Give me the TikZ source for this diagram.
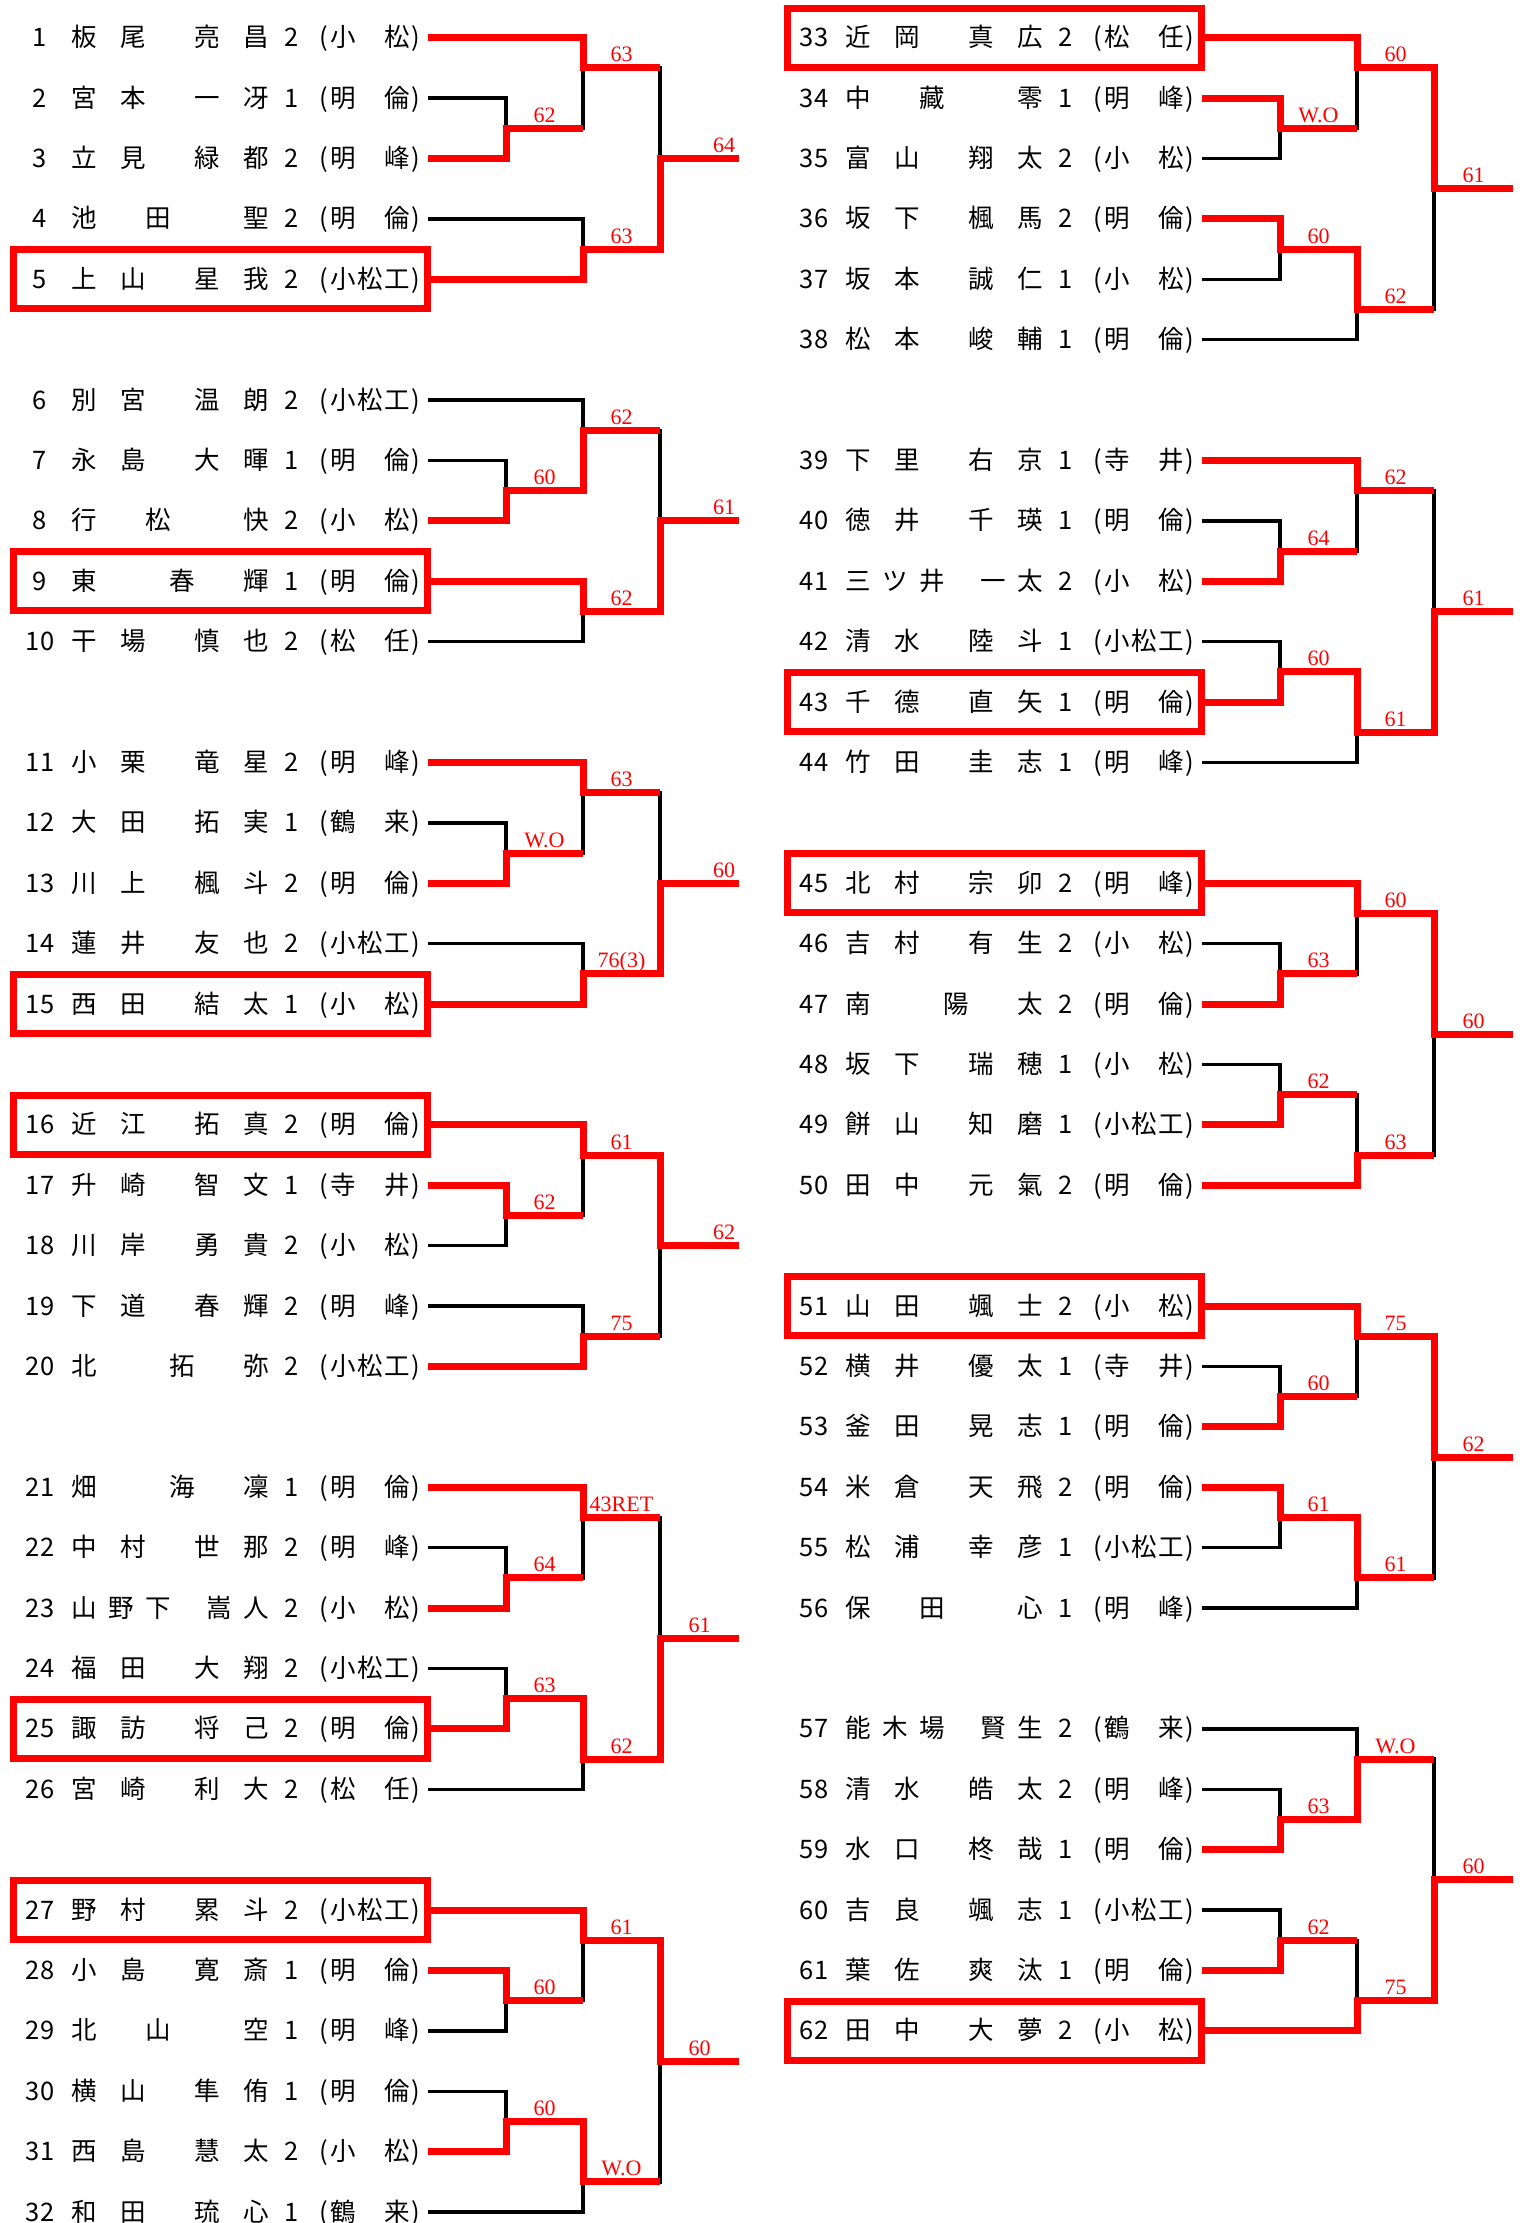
\documentclass[tikz,border=0pt]{standalone}
\usepackage{fontspec}
\newfontfamily\jp{Noto Sans CJK JP}
\newfontfamily\lf{Liberation Serif}
\tikzset{
 blk/.style={line width=3.5pt, black, line join=miter},
 win/.style={line width=7pt, red, line join=miter},
 bx/.style={line width=7pt, red, line join=miter},
 txt/.style={anchor=base, inner sep=0pt, font={\jp\fontsize{25.5}{25.5}\selectfont}},
 lbl/.style={anchor=base, inner sep=0pt, text=red, font={\lf\fontsize{22}{22}\selectfont}},
}
% id, xoff, slot, number, name list, grade, school1, school2, school3
\newcommand\prow[9]{%
 \pgfmathsetmacro\ry{37.7+#3*60.4}%
 \pgfmathsetmacro\rb{\ry+9}%
 \node[txt] (n#1) at ({#2+40},\rb) {#4};
 \foreach \pp/\cc [count=\kk] in {#5} {\node[txt] (n#1c\kk) at ({#2+84+\pp*24.6},\rb) {\cc};}
 \node[txt] (g#1) at ({#2+292},\rb) {#6};
 \node[txt] (lp#1) at ({#2+323.7},\rb) {(};
 \node[txt] (sa#1) at ({#2+343.5},\rb) {#7};
 \node[txt] (sb#1) at ({#2+370},\rb) {#8};
 \node[txt] (sc#1) at ({#2+397},\rb) {#9};
 \node[txt] (rp#1) at ({#2+415.5},\rb) {)};
 \coordinate (p#1) at ({#2+428},\ry);
}
\newcommand\pbox[2]{\draw[bx] ({#1+13},{37.7+#2*60.4-29.5}) rectangle ({#1+427},{37.7+#2*60.4+29.5});}
% name, column x, half-slot, winner, loser, next column x, label, label x
\newcommand\mcoord[8]{\coordinate (#1) at (#2,{37.7+#3*30.2});}
\newcommand\mblack[8]{\draw[blk] (#5) -| (#1);}
\newcommand\mred[8]{\draw[win] (#4) -| (#1) -- (#6,{37.7+#3*30.2});
 \node[lbl] (l#1) at (#8,{37.7+#3*30.2-6}) {#7};}
\newcommand\allmatches{%
\mt{A1}{506}{3}{p3}{p2}{583}{62}{544.5}
\mt{A2}{583}{1}{p1}{A1}{660}{63}{621.5}
\mt{A3}{583}{7}{p5}{p4}{660}{63}{621.5}
\mt{A4}{660}{4}{A3}{A2}{739}{64}{724}
\mt{B1}{506}{15}{p8}{p7}{583}{60}{544.5}
\mt{B2}{583}{13}{B1}{p6}{660}{62}{621.5}
\mt{B3}{583}{19}{p9}{p10}{660}{62}{621.5}
\mt{B4}{660}{16}{B3}{B2}{739}{61}{724}
\mt{C1}{506}{27}{p13}{p12}{583}{W.O}{544.5}
\mt{C2}{583}{25}{p11}{C1}{660}{63}{621.5}
\mt{C3}{583}{31}{p15}{p14}{660}{76(3)}{621.5}
\mt{C4}{660}{28}{C3}{C2}{739}{60}{724}
\mt{D1}{506}{39}{p17}{p18}{583}{62}{544.5}
\mt{D2}{583}{37}{p16}{D1}{660}{61}{621.5}
\mt{D3}{583}{43}{p20}{p19}{660}{75}{621.5}
\mt{D4}{660}{40}{D2}{D3}{739}{62}{724}
\mt{E1}{506}{51}{p23}{p22}{583}{64}{544.5}
\mt{E2}{583}{49}{p21}{E1}{660}{43RET}{621.5}
\mt{E3}{506}{55}{p25}{p24}{583}{63}{544.5}
\mt{E4}{583}{57}{E3}{p26}{660}{62}{621.5}
\mt{E5}{660}{53}{E4}{E2}{739}{61}{699.5}
\mt{F1}{506}{65}{p28}{p29}{583}{60}{544.5}
\mt{F2}{583}{63}{p27}{F1}{660}{61}{621.5}
\mt{F3}{506}{69}{p31}{p30}{583}{60}{544.5}
\mt{F4}{583}{71}{F3}{p32}{660}{W.O}{621.5}
\mt{F5}{660}{67}{F2}{F4}{739}{60}{699.5}
\mt{G1}{1280}{3}{p34}{p35}{1357}{W.O}{1318.5}
\mt{G2}{1357}{1}{p33}{G1}{1434}{60}{1395.5}
\mt{G3}{1280}{7}{p36}{p37}{1357}{60}{1318.5}
\mt{G4}{1357}{9}{G3}{p38}{1434}{62}{1395.5}
\mt{G5}{1434}{5}{G2}{G4}{1513}{61}{1473.5}
\mt{H1}{1280}{17}{p41}{p40}{1357}{64}{1318.5}
\mt{H2}{1357}{15}{p39}{H1}{1434}{62}{1395.5}
\mt{H3}{1280}{21}{p43}{p42}{1357}{60}{1318.5}
\mt{H4}{1357}{23}{H3}{p44}{1434}{61}{1395.5}
\mt{H5}{1434}{19}{H4}{H2}{1513}{61}{1473.5}
\mt{I1}{1280}{31}{p47}{p46}{1357}{63}{1318.5}
\mt{I2}{1357}{29}{p45}{I1}{1434}{60}{1395.5}
\mt{I3}{1280}{35}{p49}{p48}{1357}{62}{1318.5}
\mt{I4}{1357}{37}{p50}{I3}{1434}{63}{1395.5}
\mt{I5}{1434}{33}{I2}{I4}{1513}{60}{1473.5}
\mt{J1}{1280}{45}{p53}{p52}{1357}{60}{1318.5}
\mt{J2}{1357}{43}{p51}{J1}{1434}{75}{1395.5}
\mt{J3}{1280}{49}{p54}{p55}{1357}{61}{1318.5}
\mt{J4}{1357}{51}{J3}{p56}{1434}{61}{1395.5}
\mt{J5}{1434}{47}{J2}{J4}{1513}{62}{1473.5}
\mt{K1}{1280}{59}{p59}{p58}{1357}{63}{1318.5}
\mt{K2}{1357}{57}{K1}{p57}{1434}{W.O}{1395.5}
\mt{K3}{1280}{63}{p61}{p60}{1357}{62}{1318.5}
\mt{K4}{1357}{65}{p62}{K3}{1434}{75}{1395.5}
\mt{K5}{1434}{61}{K4}{K2}{1513}{60}{1473.5}
}
\begin{document}
\begin{tikzpicture}[x=1pt,y=-1pt]
\fill[white] (0,0) rectangle (1526,2223);
\useasboundingbox (0,0) rectangle (1526,2223);
% left players
\prow{1}{0}{0}{1}{0/板,2/尾,5/亮,7/昌}{2}{小}{}{松}
\prow{2}{0}{1}{2}{0/宮,2/本,5/一,7/冴}{1}{明}{}{倫}
\prow{3}{0}{2}{3}{0/立,2/見,5/緑,7/都}{2}{明}{}{峰}
\prow{4}{0}{3}{4}{0/池,3/田,7/聖}{2}{明}{}{倫}
\prow{5}{0}{4}{5}{0/上,2/山,5/星,7/我}{2}{小}{松}{工}
\prow{6}{0}{6}{6}{0/別,2/宮,5/温,7/朗}{2}{小}{松}{工}
\prow{7}{0}{7}{7}{0/永,2/島,5/大,7/暉}{1}{明}{}{倫}
\prow{8}{0}{8}{8}{0/行,3/松,7/快}{2}{小}{}{松}
\prow{9}{0}{9}{9}{0/東,4/春,7/輝}{1}{明}{}{倫}
\prow{10}{0}{10}{10}{0/干,2/場,5/慎,7/也}{2}{松}{}{任}
\prow{11}{0}{12}{11}{0/小,2/栗,5/竜,7/星}{2}{明}{}{峰}
\prow{12}{0}{13}{12}{0/大,2/田,5/拓,7/実}{1}{鶴}{}{来}
\prow{13}{0}{14}{13}{0/川,2/上,5/楓,7/斗}{2}{明}{}{倫}
\prow{14}{0}{15}{14}{0/蓮,2/井,5/友,7/也}{2}{小}{松}{工}
\prow{15}{0}{16}{15}{0/西,2/田,5/結,7/太}{1}{小}{}{松}
\prow{16}{0}{18}{16}{0/近,2/江,5/拓,7/真}{2}{明}{}{倫}
\prow{17}{0}{19}{17}{0/升,2/崎,5/智,7/文}{1}{寺}{}{井}
\prow{18}{0}{20}{18}{0/川,2/岸,5/勇,7/貴}{2}{小}{}{松}
\prow{19}{0}{21}{19}{0/下,2/道,5/春,7/輝}{2}{明}{}{峰}
\prow{20}{0}{22}{20}{0/北,4/拓,7/弥}{2}{小}{松}{工}
\prow{21}{0}{24}{21}{0/畑,4/海,7/凜}{1}{明}{}{倫}
\prow{22}{0}{25}{22}{0/中,2/村,5/世,7/那}{2}{明}{}{峰}
\prow{23}{0}{26}{23}{0/山,1.5/野,3/下,5.5/嵩,7/人}{2}{小}{}{松}
\prow{24}{0}{27}{24}{0/福,2/田,5/大,7/翔}{2}{小}{松}{工}
\prow{25}{0}{28}{25}{0/諏,2/訪,5/将,7/己}{2}{明}{}{倫}
\prow{26}{0}{29}{26}{0/宮,2/崎,5/利,7/大}{2}{松}{}{任}
\prow{27}{0}{31}{27}{0/野,2/村,5/累,7/斗}{2}{小}{松}{工}
\prow{28}{0}{32}{28}{0/小,2/島,5/寛,7/斎}{1}{明}{}{倫}
\prow{29}{0}{33}{29}{0/北,3/山,7/空}{1}{明}{}{峰}
\prow{30}{0}{34}{30}{0/横,2/山,5/隼,7/侑}{1}{明}{}{倫}
\prow{31}{0}{35}{31}{0/西,2/島,5/慧,7/太}{2}{小}{}{松}
\prow{32}{0}{36}{32}{0/和,2/田,5/琉,7/心}{1}{鶴}{}{来}
% right players
\prow{33}{774}{0}{33}{0/近,2/岡,5/真,7/広}{2}{松}{}{任}
\prow{34}{774}{1}{34}{0/中,3/藏,7/零}{1}{明}{}{峰}
\prow{35}{774}{2}{35}{0/富,2/山,5/翔,7/太}{2}{小}{}{松}
\prow{36}{774}{3}{36}{0/坂,2/下,5/楓,7/馬}{2}{明}{}{倫}
\prow{37}{774}{4}{37}{0/坂,2/本,5/誠,7/仁}{1}{小}{}{松}
\prow{38}{774}{5}{38}{0/松,2/本,5/峻,7/輔}{1}{明}{}{倫}
\prow{39}{774}{7}{39}{0/下,2/里,5/右,7/京}{1}{寺}{}{井}
\prow{40}{774}{8}{40}{0/徳,2/井,5/千,7/瑛}{1}{明}{}{倫}
\prow{41}{774}{9}{41}{0/三,1.5/ツ,3/井,5.5/一,7/太}{2}{小}{}{松}
\prow{42}{774}{10}{42}{0/清,2/水,5/陸,7/斗}{1}{小}{松}{工}
\prow{43}{774}{11}{43}{0/千,2/德,5/直,7/矢}{1}{明}{}{倫}
\prow{44}{774}{12}{44}{0/竹,2/田,5/圭,7/志}{1}{明}{}{峰}
\prow{45}{774}{14}{45}{0/北,2/村,5/宗,7/卯}{2}{明}{}{峰}
\prow{46}{774}{15}{46}{0/吉,2/村,5/有,7/生}{2}{小}{}{松}
\prow{47}{774}{16}{47}{0/南,4/陽,7/太}{2}{明}{}{倫}
\prow{48}{774}{17}{48}{0/坂,2/下,5/瑞,7/穂}{1}{小}{}{松}
\prow{49}{774}{18}{49}{0/餅,2/山,5/知,7/磨}{1}{小}{松}{工}
\prow{50}{774}{19}{50}{0/田,2/中,5/元,7/氣}{2}{明}{}{倫}
\prow{51}{774}{21}{51}{0/山,2/田,5/颯,7/士}{2}{小}{}{松}
\prow{52}{774}{22}{52}{0/横,2/井,5/優,7/太}{1}{寺}{}{井}
\prow{53}{774}{23}{53}{0/釜,2/田,5/晃,7/志}{1}{明}{}{倫}
\prow{54}{774}{24}{54}{0/米,2/倉,5/天,7/飛}{2}{明}{}{倫}
\prow{55}{774}{25}{55}{0/松,2/浦,5/幸,7/彦}{1}{小}{松}{工}
\prow{56}{774}{26}{56}{0/保,3/田,7/心}{1}{明}{}{峰}
\prow{57}{774}{28}{57}{0/能,1.5/木,3/場,5.5/賢,7/生}{2}{鶴}{}{来}
\prow{58}{774}{29}{58}{0/清,2/水,5/皓,7/太}{2}{明}{}{峰}
\prow{59}{774}{30}{59}{0/水,2/口,5/柊,7/哉}{1}{明}{}{倫}
\prow{60}{774}{31}{60}{0/吉,2/良,5/颯,7/志}{1}{小}{松}{工}
\prow{61}{774}{32}{61}{0/葉,2/佐,5/爽,7/汰}{1}{明}{}{倫}
\prow{62}{774}{33}{62}{0/田,2/中,5/大,7/夢}{2}{小}{}{松}
% boxes
\pbox{0}{4}\pbox{0}{9}\pbox{0}{16}\pbox{0}{18}\pbox{0}{28}\pbox{0}{31}
\pbox{774}{0}\pbox{774}{11}\pbox{774}{14}\pbox{774}{21}\pbox{774}{33}
% bracket
\let\mt\mcoord \allmatches
\let\mt\mblack \allmatches
\let\mt\mred \allmatches
\end{tikzpicture}
\end{document}
